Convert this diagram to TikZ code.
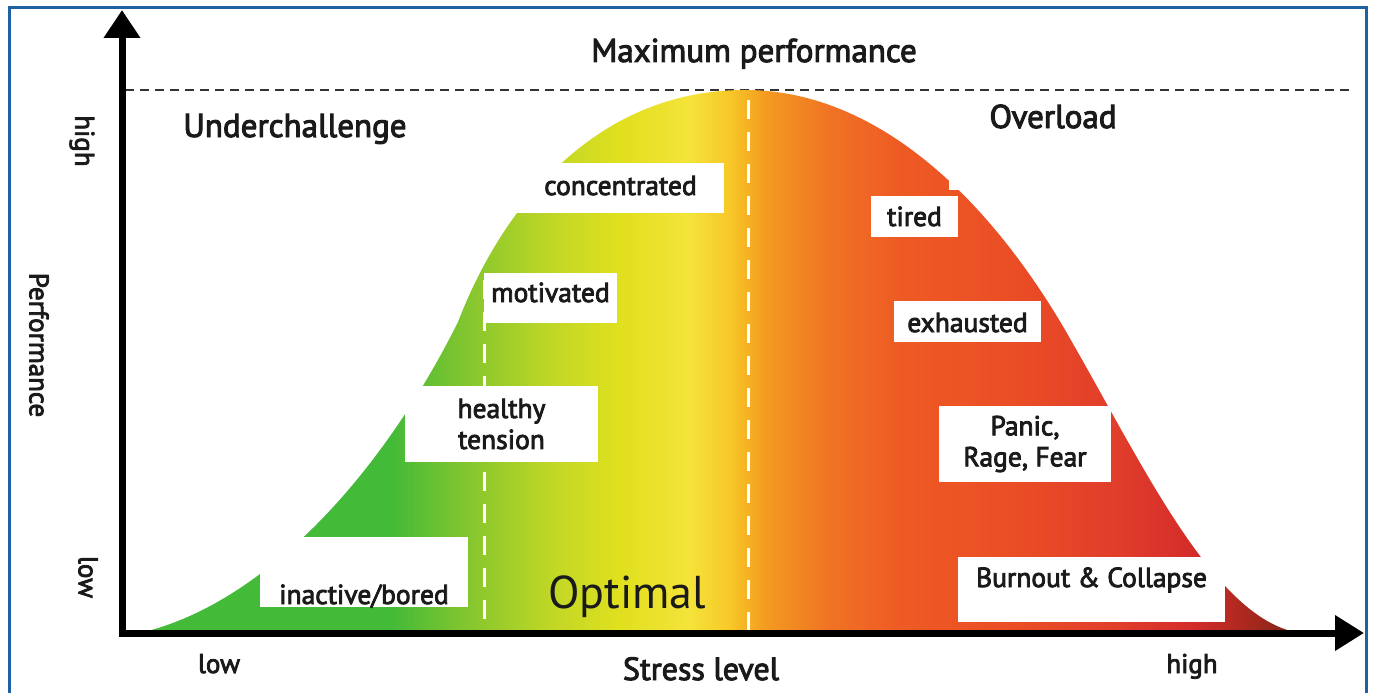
\documentclass[tikz,border=0pt]{standalone}
\usepackage{fontspec}
\setmainfont{PT Sans}
\newfontfamily\tagface{PT Sans}[FakeBold=3]
\usepackage{xcolor}
\usetikzlibrary{arrows.meta}
\definecolor{frameblue}{HTML}{1F62A4}
\definecolor{inkblack}{HTML}{1A1A1A}
\definecolor{sgreen}{HTML}{43BA38}
\definecolor{slime}{HTML}{86C62E}
\definecolor{sleaf}{HTML}{C0D726}
\definecolor{sbanana}{HTML}{E0E01E}
\definecolor{syellow}{HTML}{F5E33A}
\definecolor{samber}{HTML}{F7C828}
\definecolor{sorange}{HTML}{F49C21}
\definecolor{scarrot}{HTML}{F07324}
\definecolor{sred}{HTML}{EE5A24}
\definecolor{sbrick}{HTML}{EA4D25}
\definecolor{scrimson}{HTML}{E03D2B}
\definecolor{sblood}{HTML}{D42D2A}
\definecolor{sdark}{HTML}{A8281E}
\definecolor{sbrown}{HTML}{7A2416}
% stress band, 25bp..75bp spans the curve from left to right foot
\pgfdeclarehorizontalshading{stressband}{100bp}{
  color(0bp)=(sgreen); color(35.8bp)=(sgreen); color(39.2bp)=(slime);
  color(42.7bp)=(sleaf); color(45.7bp)=(sbanana); color(48.7bp)=(syellow);
  color(50.4bp)=(samber); color(51.9bp)=(sorange); color(54.7bp)=(scarrot);
  color(57.8bp)=(sred); color(62.9bp)=(sbrick); color(67.2bp)=(scrimson);
  color(70.3bp)=(sblood); color(72.8bp)=(sdark); color(75bp)=(sbrown);
  color(100bp)=(sbrown)}
\tikzset{
  tag/.style={fill=white, inner sep=0pt, align=center, text=inkblack,
    font=\tagface\fontsize{27.5}{31}\selectfont},
  head/.style={inner sep=0pt, text=inkblack, font=\tagface\fontsize{33}{38}\selectfont},
  tick/.style={inner sep=0pt, text=inkblack, font=\tagface\fontsize{27}{32}\selectfont},
  axis/.style={line width=7pt, draw=black},
  marker/.style={draw=white, line width=3pt, dash pattern=on 19pt off 13pt},
  peakline/.style={draw=black!80, line width=2.2pt, dash pattern=on 9pt off 6pt},
  border/.style={draw=frameblue, line width=3pt},
}

\begin{document}
\begin{tikzpicture}[x=1pt, y=-1pt]
  \useasboundingbox (0,0) rectangle (1373,693);
  \draw[border] (9,693) |- (1366,8) -- (1366,693);

  \coordinate (origin) at (122,633);
  \coordinate (ytip) at (122,10);
  \coordinate (xtip) at (1364,633);
  \coordinate (peakl) at (125,90);
  \coordinate (peakr) at (1350,90);
  \coordinate (footl) at (140,633);
  \coordinate (bendl) at (458,322);
  \coordinate (top) at (745,90);
  \coordinate (bendr) at (1068,335);
  \coordinate (footr) at (1300,633);

  \draw[peakline] (peakl) -- (peakr);

  \shade[shading=stressband] (footl)
    .. controls (260,605) and (378,482) .. (bendl)
    .. controls (505,200) and (600,90) .. (top)
    .. controls (880,90) and (992,203) .. (bendr)
    .. controls (1144,467) and (1215,620) .. (footr) -- cycle;

  \coordinate (lowtop) at (484,280);
  \coordinate (lowfoot) at (484,633);
  \coordinate (hightop) at (748,100);
  \coordinate (highfoot) at (748,633);
  \draw[marker] (lowtop) -- (lowfoot);
  \draw[marker] (hightop) -- (highfoot);
  \fill[white] (949,157) rectangle (1010,190);

  \node[tag, minimum width=207pt, text height=32pt, text depth=18pt, anchor=base]
    (conc) at (620.5,195) {concentrated};
  \node[tag, minimum width=133pt, text height=29pt, text depth=21pt, anchor=base]
    (motiv) at (550.5,302) {motivated};
  \node[tag, minimum width=193pt, minimum height=76pt] (tension) at (501.5,424)
    {healthy\\tension};
  \node[tag, minimum width=208pt, text height=67pt, text depth=3pt, anchor=base]
    (bored) at (364,604) {inactive/bored};
  \node[tag, minimum width=87pt, text height=30pt, text depth=11pt, anchor=base]
    (tired) at (914.5,226) {tired};
  \node[tag, minimum width=147pt, text height=31pt, text depth=10pt, anchor=base]
    (exh) at (967.5,332) {exhausted};
  \node[tag, minimum width=172pt, minimum height=76pt] (panic) at (1025,444)
    {Panic,\\Rage, Fear};
  \node[tag, minimum width=267pt, text height=30pt, text depth=35pt, anchor=base]
    (burn) at (1091.5,587) {Burnout \& Collapse};

  \draw[axis, {Triangle[length=28pt, width=35pt]}-{Triangle[length=29pt, width=34pt]}]
    (ytip) -- (origin) -- (xtip);

  \node[head, anchor=base] (maxp) at (754,62) {Maximum performance};
  \node[head, anchor=base] (under) at (295,137) {Underchallenge};
  \node[head, anchor=base] (over) at (1053,128) {Overload};
  \node[inner sep=0pt, text=inkblack, font=\fontsize{46}{52}\selectfont, anchor=base]
    (opt) at (627,608) {Optimal};
  \node[head, font=\tagface\fontsize{32}{36}\selectfont, anchor=base] (stress)
    at (701,680) {Stress level};
  \node[tick, anchor=base] (xlow) at (219,673) {low};
  \node[tick, anchor=base] (xhigh) at (1192,673) {high};
  \node[tick, rotate=-90] (yhigh) at (82,141) {high};
  \node[tick, rotate=-90] (ylow) at (88,577) {low};
  \node[tick, rotate=-90] (perf) at (39,345) {Performance};
\end{tikzpicture}
\end{document}
